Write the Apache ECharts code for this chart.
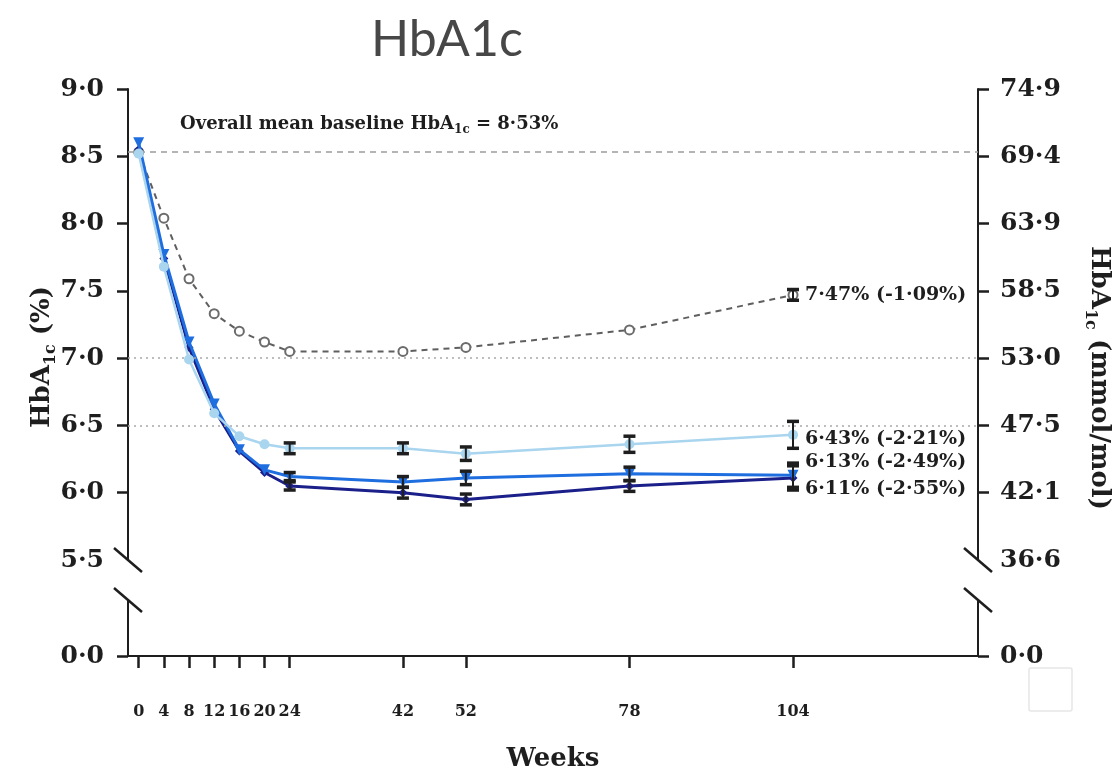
<!DOCTYPE html>
<html>
<head>
<meta charset="utf-8">
<title>HbA1c</title>
<script src="https://cdn.jsdelivr.net/npm/echarts@6/dist/echarts.min.js"></script>
<style>
    html, body { margin: 0; padding: 0; background: #fff; }
    #chart { width: 1117px; height: 771px; }
</style>
</head>
<body>
<div id="chart"></div>
<script>
// follow-up visits
const weeks = [0, 4, 8, 12, 16, 20, 24, 42, 52, 78, 104]

// mean HbA1c (%) per arm
const hba1cGrey   = [8.53, 8.04, 7.59, 7.33, 7.20, 7.12, 7.05, 7.05, 7.08, 7.21, 7.47]
const hba1cLight  = [8.52, 7.68, 6.99, 6.59, 6.42, 6.36, 6.33, 6.33, 6.29, 6.36, 6.43]
const hba1cMedium = [8.60, 7.77, 7.12, 6.66, 6.32, 6.17, 6.12, 6.08, 6.11, 6.14, 6.13]
const hba1cNavy   = [8.55, 7.74, 7.08, 6.62, 6.31, 6.15, 6.05, 6.00, 5.95, 6.05, 6.11]

// half length of the error bars (%)
const errGrey   = [0, 0, 0, 0, 0, 0, 0, 0, 0, 0, 0.04]
const errLight  = [0, 0, 0, 0, 0, 0, 0.04, 0.04, 0.05, 0.06, 0.10]
const errMedium = [0, 0, 0, 0, 0, 0, 0.03, 0.04, 0.05, 0.05, 0.09]
const errNavy   = [0, 0, 0, 0, 0, 0, 0.03, 0.04, 0.04, 0.04, 0.09]

const endLabels = ['7·47% (-1·09%)', '6·43% (-2·21%)', '6·13% (-2·49%)', '6·11% (-2·55%)']

const pctTicks = [5.5, 6, 6.5, 7, 7.5, 8, 8.5, 9]
const pctLabels = ['5·5', '6·0', '6·5', '7·0', '7·5', '8·0', '8·5', '9·0']
const mmolLabels = ['36·6', '42·1', '47·5', '53·0', '58·5', '63·9', '69·4', '74·9']

const baseline = 8.53
const guideLines = [7.0, 6.5]

const SERIF = 'DejaVu Serif'
const INK = '#1e1e1e'

// layout
const LEFT = 128, RIGHT = 139, TOP = 89, BREAK_HI = 560, BREAK_LO = 600, AXIS_Y = 656
const W = 1117, H = 771

function errorBars(vals, errs, z) {
    return {
        type: 'custom',
        xAxisIndex: 0,
        yAxisIndex: 0,
        z: z,
        silent: true,
        data: weeks.map((w, i) => [w, vals[i] - errs[i], vals[i] + errs[i]]),
        renderItem(params, api) {
            if (api.value(2) <= api.value(1)) return
            let lo = api.coord([api.value(0), api.value(1)]),
                hi = api.coord([api.value(0), api.value(2)]),
                hw = 6
            let st = { stroke: INK, lineWidth: 2 }
            let cap = { stroke: INK, lineWidth: 3.5 }
            return {
                type: 'group',
                children: [
                    { type: 'line', shape: { x1: lo[0], y1: lo[1], x2: hi[0], y2: hi[1] }, style: st },
                    { type: 'line', shape: { x1: lo[0] - hw, y1: lo[1], x2: lo[0] + hw, y2: lo[1] }, style: cap },
                    { type: 'line', shape: { x1: hi[0] - hw, y1: hi[1], x2: hi[0] + hw, y2: hi[1] }, style: cap }
                ]
            }
        }
    }
}

function arm(vals, color, symbol, size, opts) {
    return Object.assign({
        type: 'line',
        xAxisIndex: 0,
        yAxisIndex: 0,
        data: weeks.map((w, i) => [w, vals[i]]),
        symbol: symbol,
        symbolSize: size,
        showAllSymbol: true,
        itemStyle: { color: color },
        lineStyle: { color: color, width: 3 },
        emphasis: { disabled: true },
        animation: false
    }, opts)
}

function endLabel(text, dy) {
    return {
        show: true,
        formatter: text,
        offset: [4, dy],
        fontFamily: SERIF,
        fontWeight: 'bold',
        fontSize: 19,
        color: INK
    }
}

const tickLabelStyle = { fontFamily: SERIF, fontWeight: 'bold', fontSize: 25, color: INK }

let chart = echarts.init(document.getElementById('chart'))

let option = {
    backgroundColor: '#fff',
    animation: false,
    title: {
        text: 'HbA1c',
        left: 366,
        top: 10,
        textStyle: { fontFamily: 'Lato', fontWeight: 'normal', fontSize: 50, color: '#474747' }
    },
    grid: [
        { left: LEFT, right: RIGHT, top: TOP, bottom: H - BREAK_HI, outerBoundsMode: 'none', containLabel: false },
        { left: LEFT, right: RIGHT, top: BREAK_LO, bottom: H - AXIS_Y, outerBoundsMode: 'none', containLabel: false }
    ],
    xAxis: [{
        gridIndex: 0,
        type: 'value',
        min: -1.7,
        max: 133.4,
        show: false
    }, {
        gridIndex: 1,
        type: 'value',
        min: -1.7,
        max: 133.4,
        axisLine: { onZero: false, lineStyle: { color: INK, width: 2 } },
        axisTick: { customValues: weeks, length: 12, lineStyle: { color: INK, width: 2.5 } },
        axisLabel: { customValues: weeks, margin: 48, fontFamily: SERIF, fontWeight: 'bold', fontSize: 16, color: INK },
        splitLine: { show: false },
        name: 'Weeks',
        nameLocation: 'middle',
        nameGap: 90,
        nameTextStyle: { fontFamily: SERIF, fontWeight: 'bold', fontSize: 26, color: INK }
    }],
    yAxis: [{
        gridIndex: 0,
        type: 'value',
        min: 5.5,
        max: 9,
        interval: 0.5,
        axisLine: { show: true, onZero: false, lineStyle: { color: INK, width: 2 } },
        axisTick: { customValues: pctTicks.slice(1), length: 11, lineStyle: { color: INK, width: 2.5 } },
        axisLabel: Object.assign({
            customValues: pctTicks,
            margin: 24,
            formatter: v => pctLabels[pctTicks.indexOf(v)]
        }, tickLabelStyle),
        splitLine: { show: false }
    }, {
        gridIndex: 0,
        type: 'value',
        position: 'right',
        min: 5.5,
        max: 9,
        interval: 0.5,
        axisLine: { show: true, onZero: false, lineStyle: { color: INK, width: 2 } },
        axisTick: { customValues: pctTicks.slice(1), length: 11, lineStyle: { color: INK, width: 2.5 } },
        axisLabel: Object.assign({
            customValues: pctTicks,
            margin: 22,
            formatter: v => mmolLabels[pctTicks.indexOf(v)]
        }, tickLabelStyle),
        splitLine: { show: false }
    }, {
        gridIndex: 1,
        type: 'value',
        min: 0,
        max: 1,
        interval: 1,
        axisLine: { show: true, onZero: false, lineStyle: { color: INK, width: 2 } },
        axisTick: { customValues: [0], length: 11, lineStyle: { color: INK, width: 2.5 } },
        axisLabel: Object.assign({ customValues: [0], margin: 24, formatter: () => '0·0' }, tickLabelStyle),
        splitLine: { show: false }
    }, {
        gridIndex: 1,
        type: 'value',
        position: 'right',
        min: 0,
        max: 1,
        interval: 1,
        axisLine: { show: true, onZero: false, lineStyle: { color: INK, width: 2 } },
        axisTick: { customValues: [0], length: 11, lineStyle: { color: INK, width: 2.5 } },
        axisLabel: Object.assign({ customValues: [0], margin: 22, formatter: () => '0·0' }, tickLabelStyle),
        splitLine: { show: false }
    }],
    series: [
        arm(hba1cGrey, '#6c6c6c', 'emptyCircle', 9, {
            z: 2,
            lineStyle: { color: '#5f5f5f', width: 2, type: [6, 5] },
            itemStyle: { color: '#6c6c6c', borderWidth: 1.3 },
            endLabel: endLabel(endLabels[0], 0),
            markLine: {
                silent: true,
                symbol: 'none',
                label: { show: false },
                data: [{ yAxis: baseline, lineStyle: { type: [6, 5], color: '#9c9c9c', width: 1.6 } }]
                    .concat(guideLines.map(v => ({ yAxis: v, lineStyle: { type: [2, 4], color: '#a8a8a8', width: 1.6 } })))
            }
        }),
        arm(hba1cNavy, '#1b1f8a', 'diamond', 9, { z: 3, endLabel: endLabel(endLabels[3], 11) }),
        arm(hba1cMedium, '#1f6ee0', 'triangle', 11, { z: 4, symbolRotate: 180, endLabel: endLabel(endLabels[2], -13) }),
        arm(hba1cLight, '#a9d5ef', 'circle', 10, { z: 5, lineStyle: { color: '#a9d5ef', width: 2.5 }, endLabel: endLabel(endLabels[1], 4) }),
        errorBars(hba1cGrey, errGrey, 6),
        errorBars(hba1cNavy, errNavy, 6),
        errorBars(hba1cMedium, errMedium, 6),
        errorBars(hba1cLight, errLight, 6)
    ],
    graphic: []
}

chart.setOption(option)

// slashes where the two y segments meet, baseline note, axis titles
function slash(x, y) {
    return {
        type: 'line',
        shape: { x1: x - 14, y1: y - 12, x2: x + 14, y2: y + 12 },
        style: { stroke: INK, lineWidth: 2.5 }
    }
}
let xl = LEFT, xr = W - RIGHT
chart.setOption({
    graphic: [
        slash(xl, BREAK_HI), slash(xl, BREAK_LO), slash(xr, BREAK_HI), slash(xr, BREAK_LO),
        {
            type: 'text',
            x: 180,
            y: 124,
            style: {
                text: '{a|Overall mean baseline HbA}{s|1c}{a| = 8·53%}',
                verticalAlign: 'middle',
                rich: {
                    a: { fontFamily: SERIF, fontWeight: 'bold', fontSize: 18, lineHeight: 24, fill: INK },
                    s: { fontFamily: SERIF, fontWeight: 'bold', fontSize: 12, lineHeight: 24, verticalAlign: 'bottom', fill: INK }
                }
            }
        },
        {
            type: 'text',
            x: 42,
            y: 357,
            rotation: Math.PI / 2,
            style: {
                text: '{a|HbA}{s|1c}{a| (%)}',
                align: 'center',
                verticalAlign: 'middle',
                rich: {
                    a: { fontFamily: SERIF, fontWeight: 'bold', fontSize: 26, lineHeight: 34, fill: INK },
                    s: { fontFamily: SERIF, fontWeight: 'bold', fontSize: 16, lineHeight: 34, verticalAlign: 'bottom', fill: INK }
                }
            }
        },
        {
            type: 'text',
            x: 1099,
            y: 378,
            rotation: -Math.PI / 2,
            style: {
                text: '{a|HbA}{s|1c}{a| (mmol/mol)}',
                align: 'center',
                verticalAlign: 'middle',
                rich: {
                    a: { fontFamily: SERIF, fontWeight: 'bold', fontSize: 26, lineHeight: 34, fill: INK },
                    s: { fontFamily: SERIF, fontWeight: 'bold', fontSize: 16, lineHeight: 34, verticalAlign: 'bottom', fill: INK }
                }
            }
        },
        {
            type: 'rect',
            shape: { x: 1029, y: 668, width: 43, height: 43, r: 2 },
            style: { fill: '#fff', stroke: '#e6e6e6', lineWidth: 1.5 }
        }
    ]
})
</script>
</body>
</html>
